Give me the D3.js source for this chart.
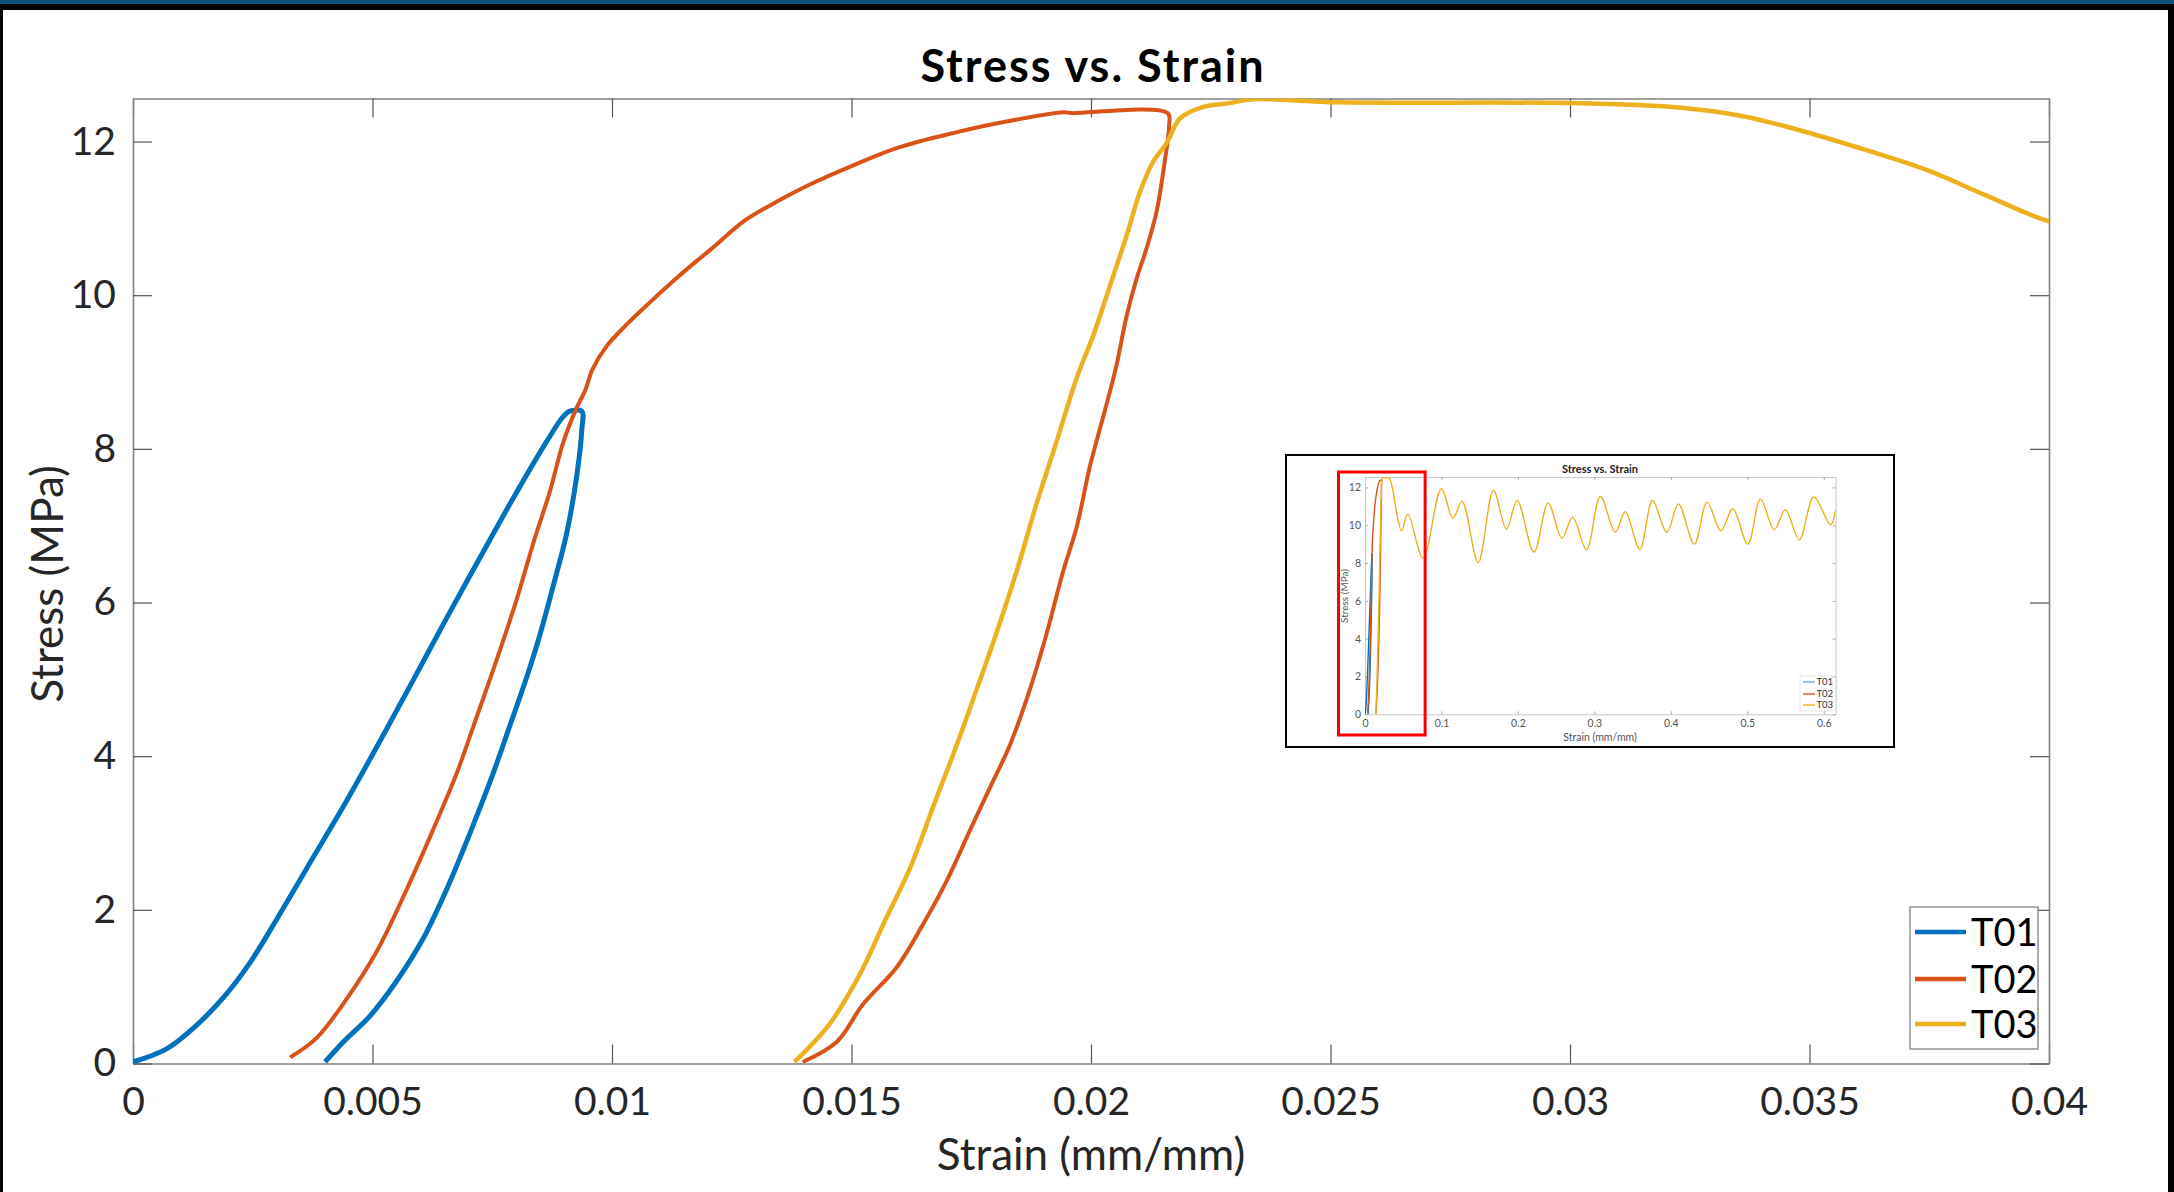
<!DOCTYPE html>
<html>
<head>
<meta charset="utf-8">
<script src="https://cdn.jsdelivr.net/npm/d3@7"></script>
<style>
  body { margin: 0; background: #fff; }
  svg { display: block; }
  text { font-family: Lato, 'Open Sans', sans-serif; }
</style>
</head>
<body>
<div id="chart"></div>
<script>
// Séries (strain, stress)
const seriesNames = ['T01', 'T02', 'T03'];
const seriesColors = ['#0072bd', '#d95319', '#edb120'];

const t01 = [
  [0, 0.02], [0.0007, 0.19], [0.00133, 0.5], [0.00189, 0.86], [0.00244, 1.31], [0.00307, 1.95],
  [0.00376, 2.68], [0.00446, 3.42], [0.00516, 4.2], [0.00585, 4.99], [0.00655, 5.8], [0.00724, 6.58],
  [0.00794, 7.36], [0.00864, 8.1], [0.00898, 8.42], [0.00912, 8.49], [0.00937, 8.49], [0.00937, 8.25],
  [0.00926, 7.63], [0.00905, 6.89], [0.00877, 6.21], [0.0085, 5.59], [0.00822, 5.03], [0.00787, 4.4],
  [0.00752, 3.78], [0.0071, 3.1], [0.00662, 2.37], [0.00606, 1.63], [0.0055, 1.07], [0.00495, 0.62],
  [0.00439, 0.28], [0.00401, 0.02]
];

const t02 = [
  [0.00328, 0.08], [0.00383, 0.33], [0.00446, 0.84], [0.00509, 1.46], [0.00571, 2.26], [0.00627, 3.05],
  [0.00676, 3.78], [0.00718, 4.52], [0.00759, 5.25], [0.00801, 6.04], [0.00836, 6.78], [0.00871, 7.46],
  [0.00898, 8.08], [0.00926, 8.53], [0.00944, 8.76], [0.00959, 9.03], [0.00988, 9.33], [0.01026, 9.59],
  [0.01078, 9.9], [0.01138, 10.24], [0.01205, 10.59], [0.01279, 10.98], [0.01339, 11.2], [0.01413, 11.44],
  [0.015, 11.68], [0.01597, 11.92], [0.01712, 12.11], [0.01823, 12.26], [0.01943, 12.38], [0.01958, 12.37],
  [0.0216, 12.37], [0.02163, 12.2], [0.02154, 11.74], [0.02137, 11.09], [0.02116, 10.61], [0.02095, 10.21],
  [0.02074, 9.72], [0.02053, 9.08], [0.02026, 8.43], [0.01998, 7.78], [0.0197, 6.98], [0.01942, 6.41],
  [0.01908, 5.61], [0.01873, 4.88], [0.01831, 4.15], [0.01789, 3.59], [0.01747, 3.03], [0.01699, 2.38],
  [0.0165, 1.82], [0.01594, 1.25], [0.01524, 0.77], [0.01469, 0.28], [0.01398, 0.02]
];

const t03 = [
  [0.01381, 0.02], [0.01455, 0.52], [0.01518, 1.17], [0.01573, 1.9], [0.01622, 2.54], [0.01671, 3.35],
  [0.0172, 4.15], [0.01762, 4.88], [0.01803, 5.61], [0.01845, 6.41], [0.01887, 7.3], [0.01929, 8.11],
  [0.0197, 8.92], [0.02005, 9.48], [0.0204, 10.13], [0.02074, 10.77], [0.02102, 11.34], [0.0213, 11.74],
  [0.02158, 11.98], [0.02186, 12.3], [0.02234, 12.45], [0.02289, 12.5], [0.02338, 12.55], [0.02517, 12.51],
  [0.03003, 12.5], [0.03233, 12.44], [0.03361, 12.33], [0.03489, 12.13], [0.03617, 11.89], [0.03744, 11.63],
  [0.03872, 11.29], [0.04, 10.96],
  // suite visible seulement dans l'encart
  [0.048, 9.7], [0.056, 10.6], [0.076, 8.26], [0.0998, 11.93], [0.115, 10.38], [0.127, 11.26],
  [0.148, 8.03], [0.168, 11.84], [0.185, 9.79], [0.199, 11.31], [0.221, 8.58], [0.2395, 11.17],
  [0.2576, 9.32], [0.2716, 10.41], [0.2897, 8.7], [0.3078, 11.52], [0.3274, 9.63], [0.3403, 10.71],
  [0.3595, 8.73], [0.376, 11.31], [0.3947, 9.63], [0.41, 11.12], [0.4307, 9.0], [0.4474, 11.22],
  [0.4655, 9.7], [0.481, 10.87], [0.5007, 9.0], [0.5172, 11.38], [0.5353, 9.76], [0.5498, 10.82],
  [0.568, 9.23], [0.587, 11.49], [0.609, 10.02], [0.6155, 10.82]
];

const xTicks = [0, 0.005, 0.01, 0.015, 0.02, 0.025, 0.03, 0.035, 0.04];
const yTicks = [0, 2, 4, 6, 8, 10, 12];
const insetXTicks = [0, 0.1, 0.2, 0.3, 0.4, 0.5, 0.6];
const insetYTicks = [0, 2, 4, 6, 8, 10, 12];
const zoomBox = [0, 0.076]; // zone encadrée en rouge (strain)

const series = [t01, t02, t03];

const config = {
  width: 2174,
  height: 1192,
  plot: { left: 133, top: 98.5, width: 1916, height: 965 },
  xMax: 0.04,
  yMax: 12.56
};

const svg = d3.select('#chart').append('svg')
  .attr('width', config.width)
  .attr('height', config.height);

// Cadre de la diapo
svg.append('rect').attr('x', 0).attr('y', 0).attr('width', config.width).attr('height', config.height).attr('fill', '#fff');
svg.append('rect').attr('x', 0).attr('y', 0).attr('width', config.width).attr('height', 10).attr('fill', '#000');
svg.append('rect').attr('x', 0).attr('y', 0).attr('width', config.width).attr('height', 4).attr('fill', '#0b5476');
svg.append('rect').attr('x', 0).attr('y', 4).attr('width', 3).attr('height', config.height).attr('fill', '#000');
svg.append('rect').attr('x', 2168).attr('y', 4).attr('width', 6).attr('height', config.height).attr('fill', '#000');

drawMain();
drawInset();

function drawMain () {
  const p = config.plot;
  const xScale = d3.scaleLinear().domain([0, config.xMax]).range([p.left, p.left + p.width]);
  const yScale = d3.scaleLinear().domain([0, config.yMax]).range([p.top + p.height, p.top]);
  const g = svg.append('g').attr('class', 'main');

  g.append('clipPath').attr('id', 'clipMain')
    .append('rect').attr('x', p.left).attr('y', p.top).attr('width', p.width).attr('height', p.height);

  // Axes (ticks vers l'intérieur, boîte complète)
  const fmt = d => String(d);
  g.append('g').attr('class', 'axis')
    .attr('transform', `translate(0,${p.top + p.height})`)
    .call(d3.axisBottom(xScale).tickValues(xTicks).tickFormat(fmt).tickSizeInner(-19).tickSizeOuter(0).tickPadding(24));
  g.append('g').attr('class', 'axis')
    .attr('transform', `translate(0,${p.top})`)
    .call(d3.axisTop(xScale).tickValues(xTicks).tickFormat('').tickSizeInner(-19).tickSizeOuter(0));
  g.append('g').attr('class', 'axis')
    .attr('transform', `translate(${p.left},0)`)
    .call(d3.axisLeft(yScale).tickValues(yTicks).tickFormat(fmt).tickSizeInner(-19).tickSizeOuter(0).tickPadding(17));
  g.append('g').attr('class', 'axis')
    .attr('transform', `translate(${p.left + p.width},0)`)
    .call(d3.axisRight(yScale).tickValues(yTicks).tickFormat('').tickSizeInner(-19).tickSizeOuter(0));

  g.selectAll('.axis .domain').attr('stroke', '#808080').attr('stroke-width', 1.6);
  g.selectAll('.axis .tick line').attr('stroke', '#555').attr('stroke-width', 1.2);
  g.selectAll('.axis text').attr('font-size', 39).attr('fill', '#262626');

  // Courbes
  const line = d3.line()
    .x(d => xScale(d[0]))
    .y(d => yScale(d[1]))
    .curve(d3.curveCatmullRom.alpha(0.5));

  const widths = [5, 4, 4.5];
  g.append('g').attr('clip-path', 'url(#clipMain)')
    .selectAll('path')
    .data(series)
    .enter()
    .append('path')
    .attr('d', line)
    .attr('fill', 'none')
    .attr('stroke', (d, i) => seriesColors[i])
    .attr('stroke-width', (d, i) => widths[i])
    .attr('stroke-linejoin', 'round');

  // Titre et libellés
  svg.append('text')
    .text('Stress vs. Strain')
    .attr('x', 1093).attr('y', 82)
    .attr('text-anchor', 'middle')
    .attr('font-size', 45).attr('font-weight', 'bold').attr('letter-spacing', 2).attr('fill', '#000');

  svg.append('text')
    .text('Strain (mm/mm)')
    .attr('x', p.left + p.width / 2).attr('y', 1170)
    .attr('text-anchor', 'middle')
    .attr('font-size', 44).attr('fill', '#262626');

  svg.append('text')
    .text('Stress (MPa)')
    .attr('transform', 'translate(63,584),rotate(-90)')
    .attr('text-anchor', 'middle')
    .attr('font-size', 44).attr('fill', '#262626');

  // Légende
  const leg = svg.append('g').attr('class', 'legend');
  leg.append('rect')
    .attr('x', 1910).attr('y', 907).attr('width', 128).attr('height', 142)
    .attr('fill', '#fff').attr('stroke', '#777').attr('stroke-width', 1.2);
  const rows = [932, 979, 1024];
  seriesNames.forEach((name, i) => {
    leg.append('line')
      .attr('x1', 1915).attr('x2', 1966).attr('y1', rows[i]).attr('y2', rows[i])
      .attr('stroke', seriesColors[i]).attr('stroke-width', 4.5);
    leg.append('text')
      .text(name)
      .attr('x', 1971).attr('y', rows[i]).attr('dy', '0.36em')
      .attr('font-size', 38).attr('fill', '#000');
  });
}

function drawInset () {
  const box = { x: 1286, y: 455, w: 608, h: 292 };
  const p = { left: 1365, top: 477, width: 470.6, height: 237.3 };
  const xScale = d3.scaleLinear().domain([0, 0.6155]).range([p.left, p.left + p.width]);
  const yScale = d3.scaleLinear().domain([0, 12.55]).range([p.top + p.height, p.top]);
  const g = svg.append('g').attr('class', 'inset');

  g.append('rect')
    .attr('x', box.x).attr('y', box.y).attr('width', box.w).attr('height', box.h)
    .attr('fill', '#fff').attr('stroke', '#000').attr('stroke-width', 2);

  g.append('clipPath').attr('id', 'clipInset')
    .append('rect').attr('x', p.left).attr('y', p.top).attr('width', p.width).attr('height', p.height);

  const fmt = d => String(d);
  g.append('g').attr('class', 'iaxis')
    .attr('transform', `translate(0,${p.top + p.height})`)
    .call(d3.axisBottom(xScale).tickValues(insetXTicks).tickFormat(fmt).tickSizeInner(-3).tickSizeOuter(0).tickPadding(5));
  g.append('g').attr('class', 'iaxis')
    .attr('transform', `translate(0,${p.top})`)
    .call(d3.axisTop(xScale).tickValues(insetXTicks).tickFormat('').tickSizeInner(-3).tickSizeOuter(0));
  g.append('g').attr('class', 'iaxis')
    .attr('transform', `translate(${p.left},0)`)
    .call(d3.axisLeft(yScale).tickValues(insetYTicks).tickFormat(fmt).tickSizeInner(-3).tickSizeOuter(0).tickPadding(4));
  g.append('g').attr('class', 'iaxis')
    .attr('transform', `translate(${p.left + p.width},0)`)
    .call(d3.axisRight(yScale).tickValues(insetYTicks).tickFormat('').tickSizeInner(-3).tickSizeOuter(0));

  g.selectAll('.iaxis .domain').attr('stroke', '#c8c8c8').attr('stroke-width', 1);
  g.selectAll('.iaxis .tick line').attr('stroke', '#aaa').attr('stroke-width', 1);
  g.selectAll('.iaxis text').attr('font-size', 10.5).attr('fill', '#555');

  const line = d3.line()
    .x(d => xScale(d[0]))
    .y(d => yScale(d[1]))
    .curve(d3.curveCatmullRom.alpha(0.5));

  g.append('g').attr('clip-path', 'url(#clipInset)')
    .selectAll('path')
    .data(series)
    .enter()
    .append('path')
    .attr('d', line)
    .attr('fill', 'none')
    .attr('stroke', (d, i) => seriesColors[i])
    .attr('stroke-width', 1.4);

  g.append('text')
    .text('Stress vs. Strain')
    .attr('x', 1600).attr('y', 473)
    .attr('text-anchor', 'middle')
    .attr('font-size', 11).attr('font-weight', 'bold').attr('fill', '#222');

  g.append('text')
    .text('Strain (mm/mm)')
    .attr('x', 1600).attr('y', 741)
    .attr('text-anchor', 'middle')
    .attr('font-size', 10.5).attr('fill', '#555');

  g.append('text')
    .text('Stress (MPa)')
    .attr('transform', 'translate(1348,596),rotate(-90)')
    .attr('text-anchor', 'middle')
    .attr('font-size', 10).attr('fill', '#555');

  // Légende de l'encart
  g.append('rect')
    .attr('x', 1800).attr('y', 676).attr('width', 32).attr('height', 35)
    .attr('fill', '#fff').attr('stroke', '#e2e2e2').attr('stroke-width', 0.8);
  const rows = [682, 694, 705];
  seriesNames.forEach((name, i) => {
    g.append('line')
      .attr('x1', 1803).attr('x2', 1815).attr('y1', rows[i]).attr('y2', rows[i])
      .attr('stroke', seriesColors[i]).attr('stroke-width', 1.4).attr('opacity', i === 0 ? 0.6 : 1);
    g.append('text')
      .text(name)
      .attr('x', 1816.5).attr('y', rows[i]).attr('dy', '0.35em')
      .attr('font-size', 9.5).attr('fill', '#333');
  });

  // Zone agrandie dans le graphique principal
  g.append('rect')
    .attr('x', 1338.5).attr('y', 472)
    .attr('width', xScale(zoomBox[1]) - 1338.5 + 2).attr('height', 263)
    .attr('fill', 'none').attr('stroke', '#ff0000').attr('stroke-width', 3);
}
</script>
</body>
</html>
